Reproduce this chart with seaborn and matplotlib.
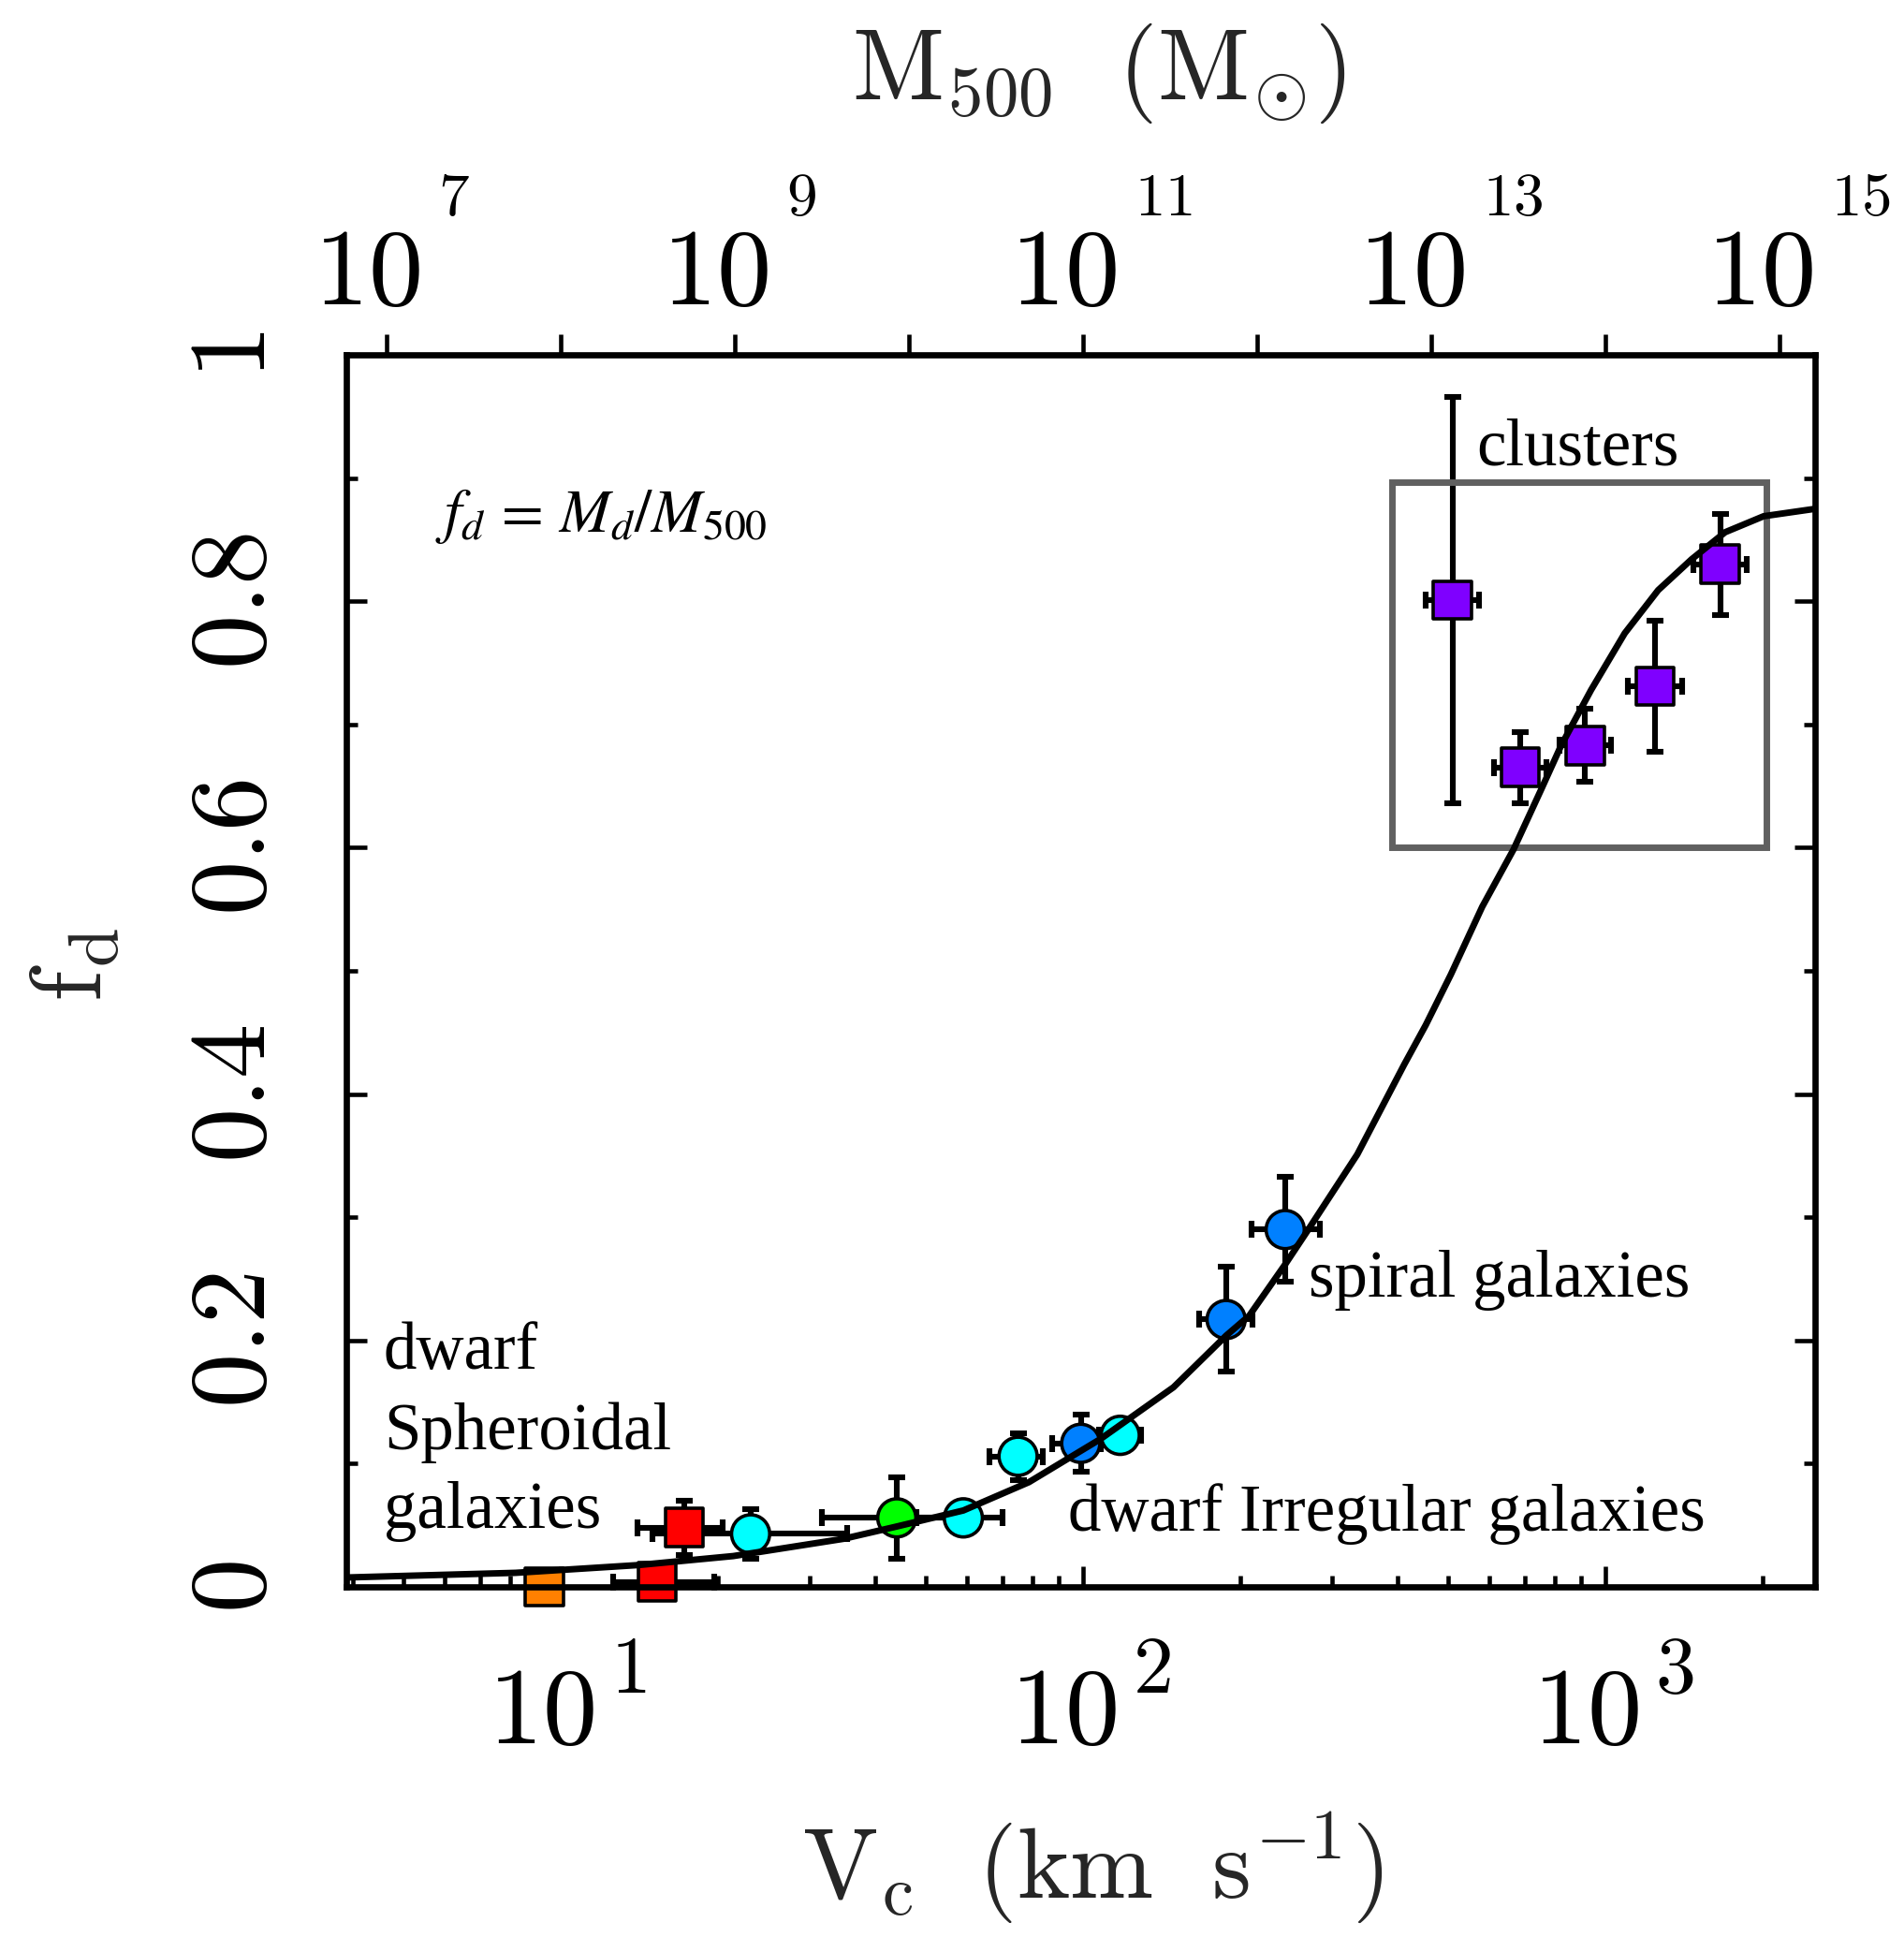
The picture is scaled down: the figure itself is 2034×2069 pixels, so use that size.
import numpy as np
import pandas as pd
import matplotlib
matplotlib.use("Agg")
import matplotlib.pyplot as plt
import seaborn as sns
from matplotlib.patches import Rectangle
from matplotlib.ticker import FixedLocator, NullFormatter, NullLocator
from matplotlib.transforms import blended_transform_factory, offset_copy

# ---------------- data: disk fraction f_d versus circular velocity ----------------
# dwarf spheroidal galaxies (first one drawn in orange)
dsph_v = [9.3, 15.3, 17.25]
dsph_f = [0.0, 0.004, 0.048]
dsph_vlo = [0.65, 2.7, 3.2]
dsph_vhi = [0.65, 4.4, 3.2]
dsph_ferr = [0.0, 0.0, 0.022]
dsph_kind = ["dSph_faint", "dSph", "dSph"]

# dwarf irregular galaxies
dirr_v = [23.1, 44.0, 59.0, 75.1, 117.8]
dirr_f = [0.043, 0.056, 0.056, 0.106, 0.123]
dirr_vlo = [8.1, 12.4, 11.0, 8.9, 10.5]
dirr_vhi = [12.2, 12.0, 11.0, 8.7, 11.6]
dirr_ferr = [0.02, 0.033, 0.005, 0.019, 0.01]
dirr_kind = ["dIrr", "dIrr_g", "dIrr", "dIrr", "dIrr"]

# spiral galaxies
spiral_v = [99.0, 187.9, 243.8]
spiral_f = [0.1165, 0.217, 0.290]
spiral_vlo = [11.7, 21.2, 34.0]
spiral_vhi = [9.0, 23.4, 40.0]
spiral_ferr = [0.023, 0.0425, 0.0425]

# galaxy clusters
cluster_v = [510, 687, 915, 1244, 1658]
cluster_f = [0.801, 0.665, 0.683, 0.731, 0.830]
cluster_vlo = [57, 74, 98, 139, 186]
cluster_vhi = [63, 84, 112, 156, 204]
cluster_ferr = [0.165, 0.029, 0.0295, 0.053, 0.041]

# model curve
curve_v = [3.88, 8.2, 14.1, 21.4, 34.8, 44.0, 59.0, 78.8, 108, 149, 188, 208,
           244, 268, 335, 412, 453, 506, 581, 667, 755, 823, 939, 1089, 1262,
           1462, 1695, 2009, 2520]
curve_f = [0.0076, 0.0114, 0.0177, 0.025, 0.039, 0.049, 0.062, 0.085, 0.120,
           0.162, 0.204, 0.220, 0.262, 0.288, 0.351, 0.424, 0.456, 0.497, 0.552,
           0.5985, 0.648, 0.683, 0.728, 0.774, 0.809, 0.834, 0.856, 0.869, 0.875]

# cluster selection box (V range, f range)
box_v = [390, 2030]
box_f = [0.600, 0.897]

palette = {"dSph_faint": "#ff8000", "dSph": "#ff0000", "dIrr": "#00ffff",
           "dIrr_g": "#00ff00", "spiral": "#0080ff", "cluster": "#7f00ff"}
shapes = {"dSph_faint": "s", "dSph": "s", "dIrr": "o", "dIrr_g": "o",
          "spiral": "o", "cluster": "s"}

bottom_ticks = [10, 100, 1000]
bottom_exp = ["1", "2", "3"]
top_ticks = [1e7, 1e8, 1e9, 1e10, 1e11, 1e12, 1e13, 1e14, 1e15]
top_labeled = [1e7, 1e9, 1e11, 1e13, 1e15]
top_exp = ["7", "9", "11", "13", "15"]
y_ticks = [0, 0.2, 0.4, 0.6, 0.8, 1.0]
y_labels = ["0", "0.2", "0.4", "0.6", "0.8", "1"]

# ---------------- figure ----------------
sns.set_style("white")
plt.rcParams["mathtext.fontset"] = "cm"
plt.rcParams["font.family"] = ["DejaVu Sans"]
plt.rcParams["lines.solid_capstyle"] = "round"

W, H = 2034, 2069
fig = plt.figure(figsize=(W / 100, H / 100), dpi=100)
ax = fig.add_axes([370 / W, 1 - 1695 / H, (1939 - 370) / W, (1695 - 379) / H])

xlo, xhi = 3.888, 2520
ax.set_xscale("log")
ax.set_xlim(xlo, xhi)
ax.set_ylim(0, 1)

# error bars
groups = [
    (dsph_v, dsph_f, dsph_vlo, dsph_vhi, dsph_ferr),
    (dirr_v, dirr_f, dirr_vlo, dirr_vhi, dirr_ferr),
    (spiral_v, spiral_f, spiral_vlo, spiral_vhi, spiral_ferr),
    (cluster_v, cluster_f, cluster_vlo, cluster_vhi, cluster_ferr),
]
for v, f, vlo, vhi, ferr in groups:
    eb = ax.errorbar(v, f, xerr=[vlo, vhi], yerr=ferr, fmt="none",
                     ecolor="black", elinewidth=4.4, capsize=6.5,
                     capthick=4.4, zorder=2)
    for art in eb.lines[1] + eb.lines[2]:
        art.set_clip_on(False)

# selection box
ax.add_patch(Rectangle((box_v[0], box_f[0]), box_v[1] - box_v[0],
                       box_f[1] - box_f[0], fill=False, edgecolor="#606060",
                       linewidth=5.0, zorder=3))

# markers
pts = pd.DataFrame({
    "V": dsph_v + dirr_v + spiral_v + cluster_v,
    "f": dsph_f + dirr_f + spiral_f + cluster_f,
    "kind": dsph_kind + dirr_kind + ["spiral"] * 3 + ["cluster"] * 5,
})
n_before = len(ax.collections)
sns.scatterplot(data=pts, x="V", y="f", hue="kind", style="kind",
                palette=palette, markers=shapes, s=860, edgecolor="black",
                linewidth=2.6, legend=False, ax=ax, zorder=4)
for coll in ax.collections[n_before:]:
    coll.set_clip_on(False)

# model curve
sns.lineplot(x=curve_v, y=curve_f, sort=False, estimator=None, color="black",
             linewidth=5.0, ax=ax, zorder=5)

# ---------------- axes styling ----------------
for sp in ax.spines.values():
    sp.set_linewidth(4.8)
    sp.set_color("black")
    sp.set_visible(True)
    sp.set_zorder(6)

ax.xaxis.set_major_locator(FixedLocator(bottom_ticks))
ax.xaxis.set_minor_locator(FixedLocator(
    [m * 10.0 ** e for e in range(0, 4) for m in range(2, 10)]))
ax.xaxis.set_major_formatter(NullFormatter())
ax.xaxis.set_minor_formatter(NullFormatter())
ax.yaxis.set_major_locator(FixedLocator(y_ticks))
ax.yaxis.set_minor_locator(FixedLocator([0.1, 0.3, 0.5, 0.7, 0.9]))
ax.yaxis.set_major_formatter(NullFormatter())
ax.tick_params(which="both", direction="in", top=True, bottom=True,
               left=True, right=True, color="black", width=3.3)
ax.tick_params(which="major", length=16)
ax.tick_params(which="minor", length=8.5)

# top axis: halo mass, M500 = 1e5 V^3
ax2 = ax.twiny()
ax2.set_xscale("log")
ax2.set_xlim(1e5 * xlo ** 3, 1e5 * xhi ** 3)
ax2.xaxis.set_major_locator(FixedLocator(top_ticks))
ax2.xaxis.set_minor_locator(NullLocator())
ax2.xaxis.set_major_formatter(NullFormatter())
ax2.tick_params(axis="x", which="major", direction="out", length=16,
                width=3.3, top=True, bottom=False, color="black")
for sp in ax2.spines.values():
    sp.set_visible(False)

# bottom tick labels
tb = blended_transform_factory(ax.transData, fig.transFigure)
for v, e in zip(bottom_ticks, bottom_exp):
    ax.text(v, 1 - 1862 / H, r"$10$", fontsize=84, ha="right", va="baseline",
            transform=offset_copy(tb, fig, x=36, units="dots"), color="black")
    ax.text(v, 1 - 1808 / H, "$" + e + "$", fontsize=62, ha="left",
            va="baseline", transform=offset_copy(tb, fig, x=53, units="dots"),
            color="black")

# top tick labels
tt = blended_transform_factory(ax2.transData, fig.transFigure)
for m, e in zip(top_labeled, top_exp):
    ax2.text(m, 1 - 325 / H, r"$10$", fontsize=84, ha="right", va="baseline",
             transform=offset_copy(tt, fig, x=36, units="dots"), color="black")
    ax2.text(m, 1 - 230 / H, "$" + e + "$", fontsize=47, ha="left",
             va="baseline", transform=offset_copy(tt, fig, x=55, units="dots"),
             color="black")

# left tick labels (rotated)
tl = blended_transform_factory(fig.transFigure, ax.transData)
for y, lab in zip(y_ticks, y_labels):
    ax.text(283 / W, y, "$" + lab + "$", fontsize=84, rotation=90,
            rotation_mode="anchor", ha="center", va="baseline",
            transform=tl, color="black")

# axis titles
ax.set_xlabel(r"$\mathrm{V_c\ \ (km\ \ s^{-1})}$", fontsize=77,
              ha="center", va="baseline")
ax.xaxis.set_label_coords(1167 / W, 1 - 2027 / H, transform=fig.transFigure)
ax.set_ylabel(r"$\mathrm{f_d}$", fontsize=77, rotation=90,
              rotation_mode="anchor", ha="center", va="baseline")
ax.yaxis.set_label_coords(108 / W, 1 - 1030 / H, transform=fig.transFigure)
ax2.set_xlabel(r"$\mathrm{M_{500}\ \ (M_{\odot})}$", fontsize=77,
               ha="center", va="baseline")
ax2.xaxis.set_label_coords(1174 / W, 1 - 105 / H, transform=fig.transFigure)

# annotations
serif = dict(fontsize=51, family="Liberation Serif", color="black",
             ha="left", va="baseline")
ax.text(566, 0.911, "clusters", **serif)
ax.text(270.4, 0.2356, "spiral galaxies", **serif)
ax.text(93.6, 0.0456, "dwarf Irregular galaxies", **serif)
ax.text(4.585, 0.177, "dwarf", **serif)
ax.text(4.585, 0.1117, "Spheroidal", **serif)
ax.text(4.585, 0.0479, "galaxies", **serif)
ax.text(5.75, 0.8564, r"$f_d\, =\, M_d/M_{500}$", fontsize=47,
        math_fontfamily="stix", ha="left", va="baseline", color="black")

fig.savefig("out.png", dpi=100)
